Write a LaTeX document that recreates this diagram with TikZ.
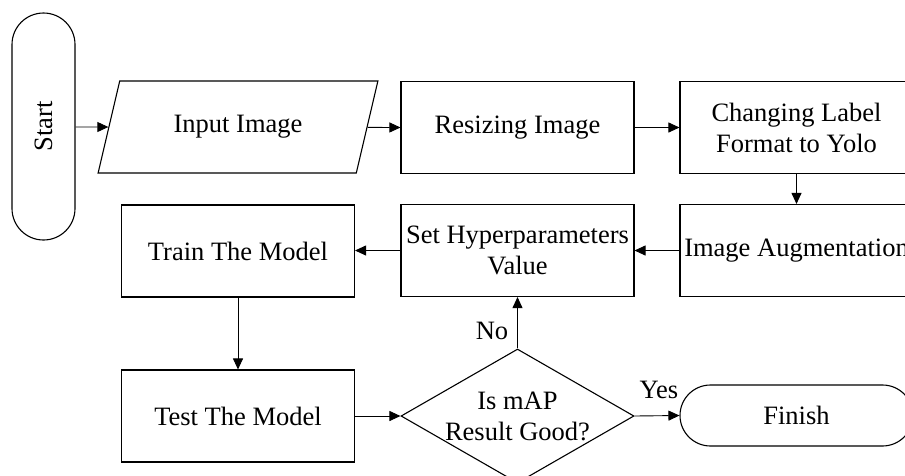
\documentclass[tikz,border=0pt]{standalone}
\usepackage{fontspec}
\setmainfont{Liberation Serif}
\usetikzlibrary{arrows.meta,shapes.geometric}
\begin{document}
\begin{tikzpicture}[x=1pt,y=-1pt,
  every node/.style={font=\fontsize{26.5}{31}\selectfont},
  box/.style={draw,line width=1.1pt,minimum width=233pt,minimum height=92pt,inner sep=0pt,align=center},
  term/.style={draw,line width=1.1pt,inner sep=0pt,align=center},
  iobox/.style={draw,line width=1.1pt,trapezium,trapezium left angle=63,trapezium right angle=117,
     trapezium stretches=true,minimum width=280pt,minimum height=92pt,inner sep=0pt},
  decbox/.style={draw,line width=1.1pt,diamond,aspect=1.74,minimum width=233pt,minimum height=134pt,inner sep=0pt},
  conn/.style={line width=0.9pt,-{Triangle[length=11pt,width=10pt]}},
  lbl/.style={inner sep=0pt}
]
\useasboundingbox (0,0) rectangle (905,475);
\clip (0,0) rectangle (905,475);
\node[term,rounded corners=31.5pt,minimum width=63pt,minimum height=227pt] (start) at (43.5,126.5) {\rotatebox{90}{Start}};
\node[iobox] (input) at (238,127) {Input Image};
\node[box] (resize) at (517.5,127.5) {Resizing Image};
\node[box] (change) at (796.5,127.5) {Changing Label\\Format to Yolo};
\node[box] (aug) at (796.5,250.5) {Image Augmentation};
\node[box] (set) at (517.5,250.5) {Set Hyperparameters\\Value};
\node[box] (train) at (238,251) {Train The Model};
\node[box] (test) at (238,416) {Test The Model};
\node[decbox] (dec) at (517.5,416) {};
\node[align=center,inner sep=0pt] (dectext) at (517.5,416) {Is mAP\\Result Good?};
\node[term,rounded corners=30.5pt,minimum width=233pt,minimum height=61pt] (finish) at (796.5,415.5) {Finish};
\node[lbl] (no) at (492,331) {No};
\node[lbl] (yes) at (659,390) {Yes};
\draw[conn] (start.east |- input) -- (input);
\draw[conn] (input) -- (resize.west);
\draw[conn] (resize.east) -- (change.west);
\draw[conn] (change.south) -- (aug.north);
\draw[conn] (aug.west) -- (set.east);
\draw[conn] (set.west) -- (set.west -| train.east);
\draw[conn] (train.south) -- (test.north);
\draw[conn] (test.east) -- (dec.west);
\draw[conn] (dec.north) -- (set.south);
\draw[conn] (dec.east) -- (finish.west);
\end{tikzpicture}
\end{document}
